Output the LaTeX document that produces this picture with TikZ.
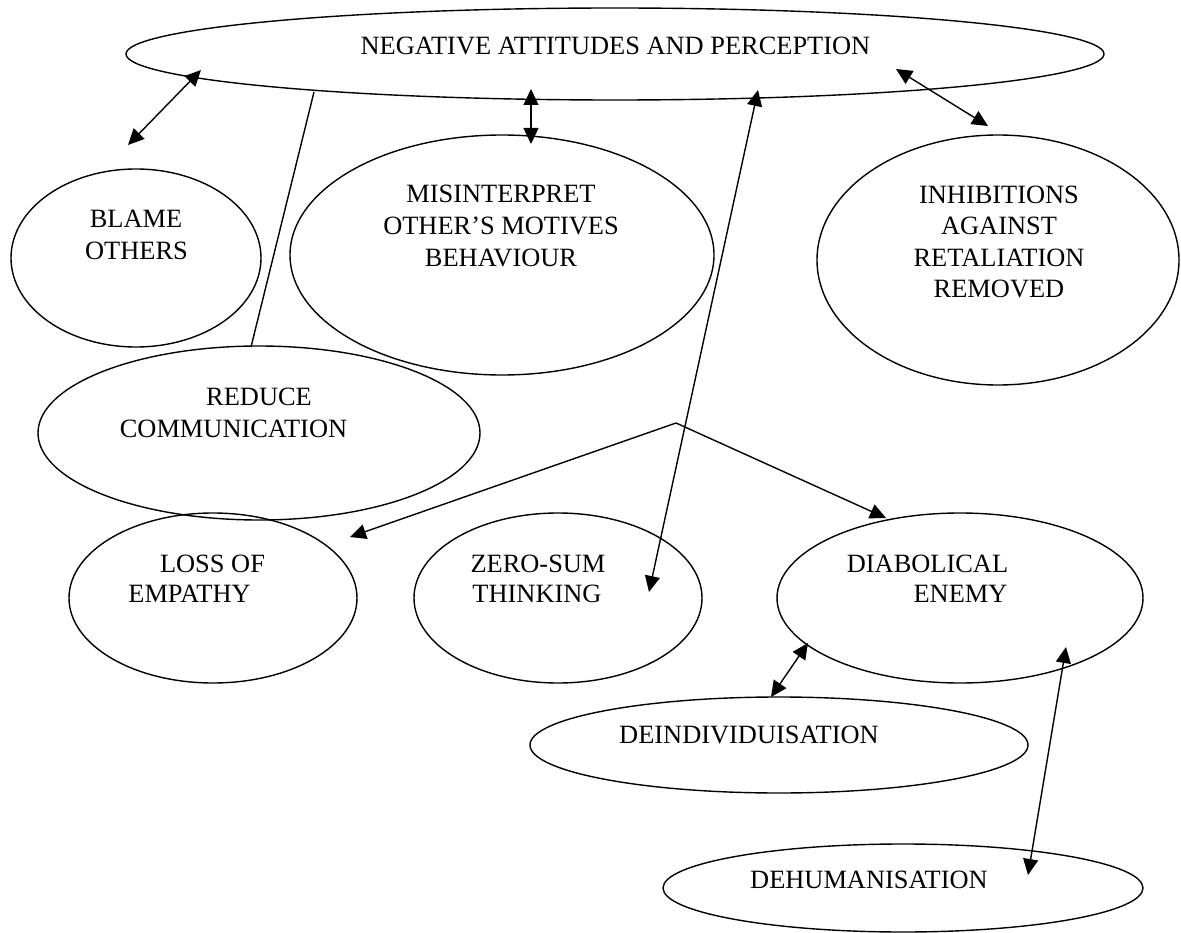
\documentclass[tikz,border=0pt]{standalone}
\usepackage{fontspec}
\setmainfont{Liberation Serif}
\usetikzlibrary{shapes.geometric,arrows.meta}
\tikzset{
  oval/.style={draw, ellipse, inner sep=0pt, outer sep=0pt, line width=1.4pt},
  lbl/.style={anchor=base, inner sep=0pt, font=\fontsize{26.4}{31}\selectfont},
  tip/.tip={Triangle[length=16pt,width=15pt]},
  link/.style={line width=1.4pt},
  twoway/.style={link, tip-tip},
  oneway/.style={link, -tip}
}
\begin{document}
\begin{tikzpicture}[x=1pt,y=-1pt]
\useasboundingbox (0,0) rectangle (1181,933);
% ellipses
\node[oval, minimum width=978pt, minimum height=92pt] (neg) at (615,54) {};
\node[oval, minimum width=250pt, minimum height=178pt] (blame) at (136,258) {};
\node[oval, minimum width=424pt, minimum height=240pt] (mis) at (502,255) {};
\node[oval, minimum width=362pt, minimum height=250pt] (inh) at (998,260) {};
\node[oval, minimum width=442pt, minimum height=174pt] (red) at (259,433) {};
\node[oval, minimum width=288pt, minimum height=170pt] (loss) at (213,598) {};
\node[oval, minimum width=288pt, minimum height=170pt] (zero) at (558,598) {};
\node[oval, minimum width=366pt, minimum height=170pt] (dia) at (960,598) {};
\node[oval, minimum width=498pt, minimum height=96pt] (dei) at (779,745) {};
\node[oval, minimum width=480pt, minimum height=88pt] (deh) at (903,888) {};
% texts
\node[lbl] (tneg) at (615.5,55) {NEGATIVE ATTITUDES AND PERCEPTION};
\node[lbl] (tblame1) at (136,228) {BLAME};
\node[lbl] (tblame2) at (136.5,260) {OTHERS};
\node[lbl] (tmis1) at (501,203) {MISINTERPRET};
\node[lbl] (tmis2) at (501,235) {OTHER’S MOTIVES};
\node[lbl] (tmis3) at (501,267) {BEHAVIOUR};
\node[lbl] (tinh1) at (999,204) {INHIBITIONS};
\node[lbl] (tinh2) at (999,235) {AGAINST};
\node[lbl] (tinh3) at (999,267) {RETALIATION};
\node[lbl] (tinh4) at (999,298) {REMOVED};
\node[lbl] (tred1) at (259,405) {REDUCE};
\node[lbl] (tred2) at (233.5,437) {COMMUNICATION};
\node[lbl] (tloss1) at (212.5,572) {LOSS OF};
\node[lbl] (tloss2) at (189.5,602) {EMPATHY};
\node[lbl] (tzero1) at (538,572) {ZERO-SUM};
\node[lbl] (tzero2) at (537,602) {THINKING};
\node[lbl] (tdia1) at (927.5,572) {DIABOLICAL};
\node[lbl] (tdia2) at (960.5,602) {ENEMY};
\node[lbl] (tdei) at (749,743) {DEINDIVIDUISATION};
\node[lbl] (tdeh) at (869,888) {DEHUMANISATION};
% connector end points
\coordinate (negA) at (201,70);
\coordinate (blameA) at (128,145);
\coordinate (negB) at (531,89);
\coordinate (misB) at (531,144);
\coordinate (negC) at (758,90);
\coordinate (zeroC) at (649,592);
\coordinate (negD) at (896,69);
\coordinate (inhD) at (988,126);
\coordinate (negE) at (314,92);
\coordinate (redE) at (251,347);
\coordinate (fork) at (676,423);
\coordinate (lossF) at (350,537);
\coordinate (diaF) at (886,518);
\coordinate (diaG) at (808,643);
\coordinate (deiG) at (771,697);
\coordinate (diaH) at (1066,647);
\coordinate (dehH) at (1028,875);
% connectors
\draw[twoway] (blameA) -- (negA);
\draw[twoway] (misB) -- (negB);
\draw[twoway] (zeroC) -- (negC);
\draw[twoway] (negD) -- (inhD);
\draw[link] (negE) -- (redE);
\draw[oneway] (fork) -- (lossF);
\draw[oneway] (fork) -- (diaF);
\draw[twoway] (diaG) -- (deiG);
\draw[twoway] (diaH) -- (dehH);
\end{tikzpicture}
\end{document}
